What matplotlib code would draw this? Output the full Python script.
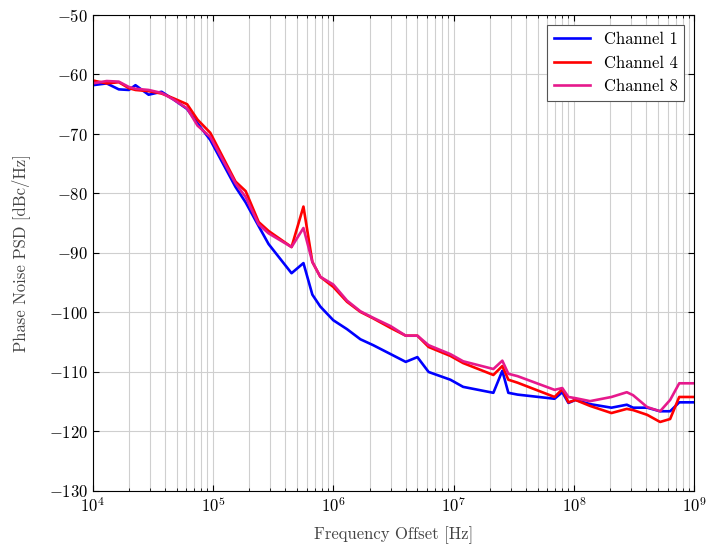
import matplotlib
matplotlib.use("Agg")
import matplotlib.pyplot as plt
from matplotlib.ticker import LogLocator, MultipleLocator

plt.rcParams["font.family"] = "cmr10"
plt.rcParams["mathtext.fontset"] = "cm"
plt.rcParams["axes.formatter.use_mathtext"] = True

# frequency offsets (Hz)
FREQ = [1e4, 1.31e4, 1.65e4, 2e4, 2.27e4, 2.92e4, 3.74e4, 4.7e4, 6.1e4, 7.45e4,
        9.5e4, 1.54e5, 1.87e5, 2.4e5, 2.9e5, 4.5e5, 5.65e5, 6.7e5, 7.8e5, 1e6,
        1.3e6, 1.68e6, 2.15e6, 3e6, 4e6, 5e6, 6.2e6, 9.4e6, 1.2e7, 2.14e7,
        2.54e7, 2.85e7, 3.4e7, 6.9e7, 8e7, 9e7, 1.03e8, 1.36e8, 2.05e8, 2.75e8,
        3.1e8, 4.06e8, 5.2e8, 6.3e8, 7.5e8, 1e9]

CH1 = [-61.8, -61.5, -62.5, -62.6, -61.8, -63.4, -62.9, -64.2, -65.8, -68.2,
       -71.0, -78.9, -81.5, -85.5, -88.5, -93.4, -91.7, -97.0, -99.0, -101.3,
       -102.8, -104.5, -105.5, -107.0, -108.3, -107.5, -110.0, -111.3, -112.5, -113.5,
       -109.8, -113.5, -113.8, -114.5, -113.4, -115.2, -114.7, -115.4, -116.0, -115.5,
       -116.0, -116.0, -116.6, -116.6, -115.1, -115.1]

CH4 = [-61.0, -61.5, -61.3, -62.3, -62.6, -62.8, -63.2, -64.0, -65.0, -67.6,
       -69.8, -78.0, -79.6, -84.8, -86.3, -89.0, -82.2, -91.5, -94.0, -95.7,
       -98.2, -99.9, -101.0, -102.6, -103.9, -103.9, -105.8, -107.3, -108.5, -110.5,
       -109.0, -111.3, -111.8, -114.2, -112.9, -115.1, -114.7, -115.7, -116.9, -116.2,
       -116.4, -117.2, -118.4, -117.9, -114.2, -114.2]

CH8 = [-61.5, -61.1, -61.2, -62.1, -62.4, -62.6, -63.1, -64.2, -65.7, -68.6,
       -70.5, -78.3, -80.6, -85.2, -86.7, -89.0, -85.8, -91.5, -94.0, -95.3,
       -98.0, -99.8, -100.9, -102.3, -103.9, -103.9, -105.5, -107.0, -108.2, -109.5,
       -108.1, -110.3, -110.7, -113.0, -112.7, -114.2, -114.4, -114.9, -114.2, -113.4,
       -113.9, -115.9, -116.6, -114.7, -111.9, -111.9]

fig = plt.figure(figsize=(7.07, 5.47), dpi=100)
ax = fig.add_axes([0.131, 0.1024, 0.851, 0.8702])

ax.plot(FREQ, CH1, color="#0000ff", lw=1.9, label="Channel 1")
ax.plot(FREQ, CH4, color="#ff0000", lw=1.9, label="Channel 4")
ax.plot(FREQ, CH8, color="#e6198c", lw=1.9, label="Channel 8")

ax.set_xscale("log")
ax.set_xlim(1e4, 1e9)
ax.set_ylim(-130, -50)
ax.yaxis.set_major_locator(MultipleLocator(10))
ax.xaxis.set_major_locator(LogLocator(base=10, numticks=12))
ax.xaxis.set_minor_locator(LogLocator(base=10, subs=range(2, 10), numticks=12))

ax.grid(which="major", color="#cfcfcf", lw=0.8)
ax.grid(which="minor", axis="x", color="#cfcfcf", lw=0.8)
ax.set_axisbelow(True)
ax.tick_params(which="both", direction="in", top=True, right=True, labelsize=12)
ax.tick_params(which="major", length=4)
ax.tick_params(which="minor", length=2)

ax.set_xlabel("Frequency Offset [Hz]", fontsize=12, color="#444444", labelpad=8)
ax.set_ylabel("Phase Noise PSD [dBc/Hz]", fontsize=12, color="#444444", labelpad=13)

leg = ax.legend(loc="upper right", fontsize=12, fancybox=False, edgecolor="#555555",
                framealpha=1.0, borderaxespad=0.6, handlelength=2.2)
leg.get_frame().set_linewidth(0.8)

fig.savefig("out.png", dpi=100)
